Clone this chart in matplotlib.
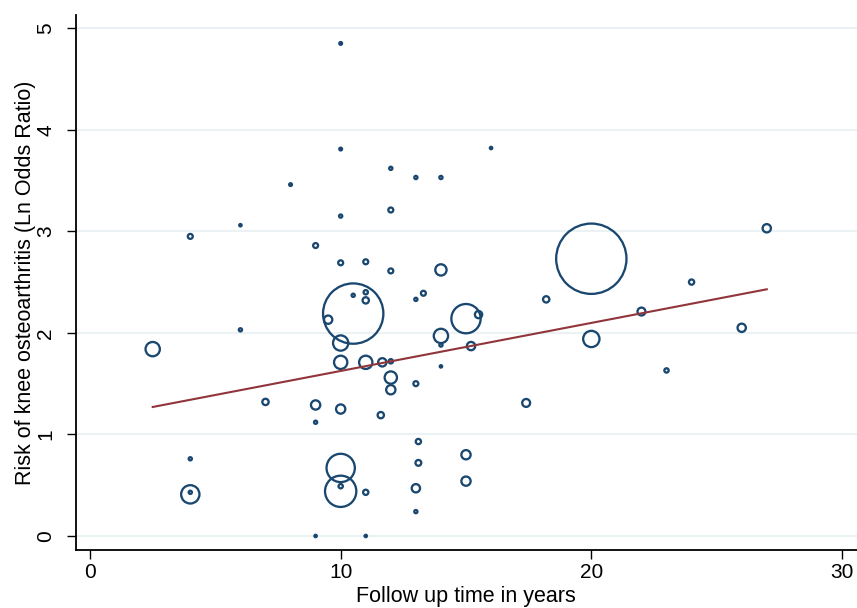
import numpy as np
import matplotlib
matplotlib.use("Agg")
from matplotlib import pyplot as plt

plt.rcParams['font.family'] = ['Liberation Sans', 'DejaVu Sans']

# follow up time (years), ln odds ratio, study weight (relative)
follow_up = [10, 10, 12, 13, 14, 8, 10, 12, 6, 4,
             9, 10, 11, 12, 14, 16, 27, 24, 20, 10.5,
             10.5, 11, 11, 9.5, 10, 10, 11, 11.66, 12, 12,
             12, 13, 13.3, 14, 14, 14, 15, 15.5, 15.2, 13,
             9, 10, 11.6, 9, 13.1, 13.1, 15, 15, 10, 10,
             10, 11, 13, 13, 9, 11, 2.5, 6, 7, 4,
             4, 4, 18.2, 22, 26, 20, 23, 17.4]
ln_or = [4.85, 3.81, 3.62, 3.53, 3.53, 3.46, 3.15, 3.21, 3.06, 2.95,
         2.86, 2.69, 2.70, 2.61, 2.62, 3.82, 3.03, 2.50, 2.73, 2.19,
         2.37, 2.40, 2.32, 2.13, 1.90, 1.71, 1.71, 1.71, 1.72, 1.56,
         1.44, 2.33, 2.39, 1.97, 1.88, 1.67, 2.14, 2.18, 1.87, 1.50,
         1.29, 1.25, 1.19, 1.12, 0.93, 0.72, 0.80, 0.54, 0.67, 0.44,
         0.49, 0.43, 0.47, 0.24, 0.00, 0.00, 1.84, 2.03, 1.32, 0.76,
         0.41, 0.43, 2.33, 2.21, 2.05, 1.94, 1.63, 1.31]
weight = [5, 5, 6, 6, 6, 5, 6, 11, 4, 11,
          11, 11, 11, 11, 42, 4, 25, 12, 1296, 961,
          6, 9, 16, 25, 72, 56, 56, 25, 9, 49,
          30, 6, 11, 64, 6, 4, 240, 20, 25, 11,
          30, 30, 16, 6, 12, 14, 30, 30, 225, 272,
          9, 12, 25, 6, 4, 4, 64, 6, 16, 6,
          100, 6, 16, 23, 25, 81, 9, 23]

# fitted meta-regression line
fit_intercept = 1.152
fit_slope = 0.0473

x = np.array(follow_up)
y = np.array(ln_or)
w = np.array(weight)

lw_pt = 1.65
lw_px = lw_pt * 100 / 72
r_px = np.maximum(np.sqrt(w) + 0.3 - lw_px / 2, 1.2)
sizes = (2 * r_px * 72 / 100) ** 2

fig = plt.figure(figsize=(8.57, 6.08), dpi=100)
ax = fig.add_axes([75.5 / 857, 1 - 550 / 608, 1 - 75.5 / 857, (550 - 15) / 608])

ax.scatter(x, y, s=sizes, facecolors='none', edgecolors='#1a476f', linewidths=lw_pt, zorder=3)

xf = np.array([x.min(), x.max()])
ax.plot(xf, fit_intercept + fit_slope * xf, color='#90353b', lw=1.5, zorder=4)

ax.set_xlim(-0.58, 30.6)
ax.set_ylim(-0.138, 5.13)
ax.set_xticks([0, 10, 20, 30])
ax.set_yticks([0, 1, 2, 3, 4, 5])
ax.grid(axis='y', color='#eaf2f3', lw=1.5)
ax.set_axisbelow(True)

for s in ['top', 'right']:
    ax.spines[s].set_visible(False)
for s in ['left', 'bottom']:
    ax.spines[s].set_linewidth(1.3)

ax.tick_params(axis='x', length=6.5, width=1, labelsize=15, pad=3)
ax.tick_params(axis='y', length=6.5, width=1, labelsize=15, pad=8, labelrotation=90)
for lab in ax.get_yticklabels():
    lab.set_va('center')

ax.set_xlabel('Follow up time in years', fontsize=15.5, labelpad=3)
ax.set_ylabel('Risk of knee osteoarthritis (Ln Odds Ratio)', fontsize=15.5, labelpad=0)

fig.savefig('out.png', dpi=100)
